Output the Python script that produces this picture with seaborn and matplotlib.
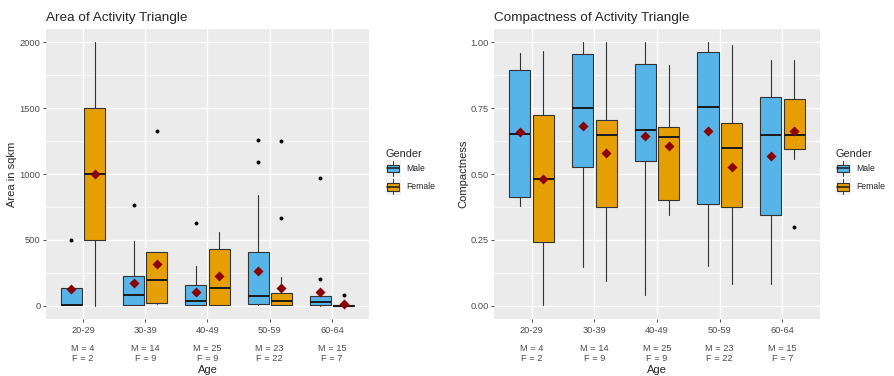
import numpy as np
import pandas as pd
import matplotlib
matplotlib.use("Agg")
import matplotlib.pyplot as plt
import seaborn as sns
from matplotlib.ticker import MultipleLocator, FixedLocator
from matplotlib.patches import Rectangle, Patch
from matplotlib.lines import Line2D
from matplotlib.legend_handler import HandlerBase

# data
age_groups = ["20-29", "30-39", "40-49", "50-59", "60-64"]
n_male = [4, 14, 25, 23, 15]
n_female = [2, 9, 9, 22, 7]

# area of activity triangle (sqkm): box summary per age group
area_male_low = [8, 5, 5, 5, 0]
area_male_q1 = [8, 8, 5, 13, 3]
area_male_med = [10, 80, 34, 73, 29]
area_male_q3 = [133, 229, 155, 406, 71]
area_male_high = [133, 493, 306, 845, 100]
area_male_mean = [127, 171, 103, 264, 104]
area_male_out = [[502], [764], [632], [1256, 1091], [201, 970]]

area_female_low = [0, 15, 5, 5, 0]
area_female_q1 = [500, 23, 5, 5, 0]
area_female_med = [1000, 193, 135, 35, 2]
area_female_q3 = [1500, 406, 430, 97, 6]
area_female_high = [2000, 412, 560, 218, 8]
area_female_mean = [1000, 317, 224, 135, 15]
area_female_out = [[], [1325], [], [1251, 670], [86]]

# compactness of activity triangle
comp_male_low = [0.378, 0.148, 0.043, 0.151, 0.082]
comp_male_q1 = [0.414, 0.528, 0.551, 0.388, 0.345]
comp_male_med = [0.652, 0.751, 0.668, 0.754, 0.650]
comp_male_q3 = [0.896, 0.956, 0.919, 0.962, 0.792]
comp_male_high = [0.959, 1.0, 1.0, 1.0, 0.933]
comp_male_mean = [0.659, 0.684, 0.643, 0.665, 0.569]
comp_male_out = [[], [], [], [], []]

comp_female_low = [0.003, 0.096, 0.344, 0.082, 0.558]
comp_female_q1 = [0.241, 0.376, 0.402, 0.376, 0.596]
comp_female_med = [0.483, 0.650, 0.642, 0.599, 0.647]
comp_female_q3 = [0.726, 0.706, 0.678, 0.695, 0.787]
comp_female_high = [0.968, 1.0, 0.914, 0.989, 0.933]
comp_female_mean = [0.483, 0.582, 0.608, 0.528, 0.664]
comp_female_out = [[], [], [], [], [0.298]]

male_col = "#56B4E9"
female_col = "#E69F00"
edge_col = "#333333"

sns.set_theme(style="darkgrid", rc={
    "axes.facecolor": "#EBEBEB",
    "grid.color": "white",
    "axes.edgecolor": "#EBEBEB",
    "xtick.bottom": True, "ytick.left": True,
    "xtick.major.size": 2.2, "ytick.major.size": 2.2,
    "xtick.major.width": 0.6, "ytick.major.width": 0.6,
    "xtick.color": edge_col, "ytick.color": edge_col,
    "xtick.labelcolor": "#4D4D4D", "ytick.labelcolor": "#4D4D4D",
    "ytick.minor.size": 0,
})
plt.rcParams["font.family"] = ["Liberation Sans", "DejaVu Sans"]


class BoxKeyHandler(HandlerBase):
    # ggplot-like boxplot glyph for the legend keys
    def create_artists(self, legend, orig_handle, xdescent, ydescent,
                       width, height, fontsize, trans):
        x0, y0 = -xdescent, -ydescent
        bg = Rectangle((x0, y0), width, height, facecolor="#F2F2F2",
                       edgecolor="none", transform=trans)
        bx, bw = x0 + width * 0.1, width * 0.8
        by, bh = y0 + height * 0.27, height * 0.46
        cx, cy = x0 + width / 2, by + bh / 2
        wl = Line2D([cx, cx], [y0 + height * 0.05, by], color=edge_col, lw=0.7, transform=trans)
        wu = Line2D([cx, cx], [by + bh, y0 + height * 0.95], color=edge_col, lw=0.7, transform=trans)
        box = Rectangle((bx, by), bw, bh, facecolor=orig_handle.get_facecolor(),
                        edgecolor=edge_col, lw=0.8, transform=trans)
        med = Line2D([bx, bx + bw], [cy, cy], color="#1A1A1A", lw=1.1, transform=trans)
        return [bg, wl, wu, box, med]


def draw_panel(ax, groups, title, ylabel):
    pos = np.arange(len(age_groups))
    rows = []
    for off, g in zip([-0.1875, 0.1875], groups):
        low, q1, med, q3, high, mean, out, col = g
        stats = [dict(whislo=low[i], q1=q1[i], med=med[i], q3=q3[i],
                      whishi=high[i], fliers=[]) for i in range(len(age_groups))]
        ax.bxp(stats, positions=pos + off, widths=0.3375, patch_artist=True,
               showfliers=False, showcaps=False, manage_ticks=False,
               boxprops=dict(facecolor=col, edgecolor=edge_col, lw=0.8),
               medianprops=dict(color="#1A1A1A", lw=1.4),
               whiskerprops=dict(color=edge_col, lw=0.8))
        for i in range(len(age_groups)):
            rows.append(dict(x=pos[i] + off, y=mean[i], kind="mean"))
            for v in out[i]:
                rows.append(dict(x=pos[i] + off, y=v, kind="out"))
    df = pd.DataFrame(rows)
    sns.scatterplot(data=df[df.kind == "out"], x="x", y="y", ax=ax, color="black",
                    s=8, linewidth=0, legend=False, zorder=4)
    sns.scatterplot(data=df[df.kind == "mean"], x="x", y="y", ax=ax, color="#8B0000",
                    marker="D", s=26, linewidth=0, legend=False, zorder=5)

    ax.set_xlim(-0.6, len(age_groups) - 0.4)
    ax.xaxis.set_major_locator(FixedLocator(pos))
    ax.set_xticklabels([f"{a}\n\nM = {m}\nF = {f}" for a, m, f in
                        zip(age_groups, n_male, n_female)],
                       fontsize=6.7, linespacing=1.05)
    ax.tick_params(axis="y", labelsize=6.7, pad=1.5)
    ax.tick_params(axis="x", pad=2.5)
    ax.grid(which="major", color="white", lw=1.0)
    ax.grid(which="minor", axis="y", color="white", lw=0.5)
    ax.set_xlabel("Age", fontsize=8, labelpad=1.5)
    ax.set_ylabel(ylabel, fontsize=8, labelpad=1.5)
    ax.set_title(title, loc="left", fontsize=9.7, pad=6)
    for s in ax.spines.values():
        s.set_visible(False)


fig = plt.figure(figsize=(8.94, 3.76), dpi=100)
ax1 = fig.add_axes([0.0511, 0.1516, 0.362, 0.7705])
ax2 = fig.add_axes([0.5526, 0.1516, 0.3647, 0.7705])

draw_panel(ax1, [
    (area_male_low, area_male_q1, area_male_med, area_male_q3, area_male_high,
     area_male_mean, area_male_out, male_col),
    (area_female_low, area_female_q1, area_female_med, area_female_q3, area_female_high,
     area_female_mean, area_female_out, female_col),
], "Area of Activity Triangle", "Area in sqkm")
ax1.set_ylim(-100, 2100)
ax1.yaxis.set_major_locator(MultipleLocator(500))
ax1.yaxis.set_minor_locator(MultipleLocator(250))

draw_panel(ax2, [
    (comp_male_low, comp_male_q1, comp_male_med, comp_male_q3, comp_male_high,
     comp_male_mean, comp_male_out, male_col),
    (comp_female_low, comp_female_q1, comp_female_med, comp_female_q3, comp_female_high,
     comp_female_mean, comp_female_out, female_col),
], "Compactness of Activity Triangle", "Compactness")
ax2.set_ylim(-0.05, 1.05)
ax2.yaxis.set_major_locator(MultipleLocator(0.25))
ax2.yaxis.set_minor_locator(MultipleLocator(0.125))
ax2.yaxis.set_major_formatter(matplotlib.ticker.FormatStrFormatter("%.2f"))

handles = [Patch(facecolor=male_col), Patch(facecolor=female_col)]
for xpos in [386 / 894, 836 / 894]:
    leg = fig.legend(handles, ["Male", "Female"], title="Gender",
                     loc="upper left", bbox_to_anchor=(xpos, 1 - 149 / 376),
                     frameon=False, fontsize=6.2, title_fontsize=7.8,
                     handler_map={Patch: BoxKeyHandler()},
                     handlelength=1.7, handleheight=2.7, labelspacing=0.1,
                     handletextpad=0.6, borderpad=0, borderaxespad=0,
                     alignment="left")

fig.savefig("out.png", dpi=100)
